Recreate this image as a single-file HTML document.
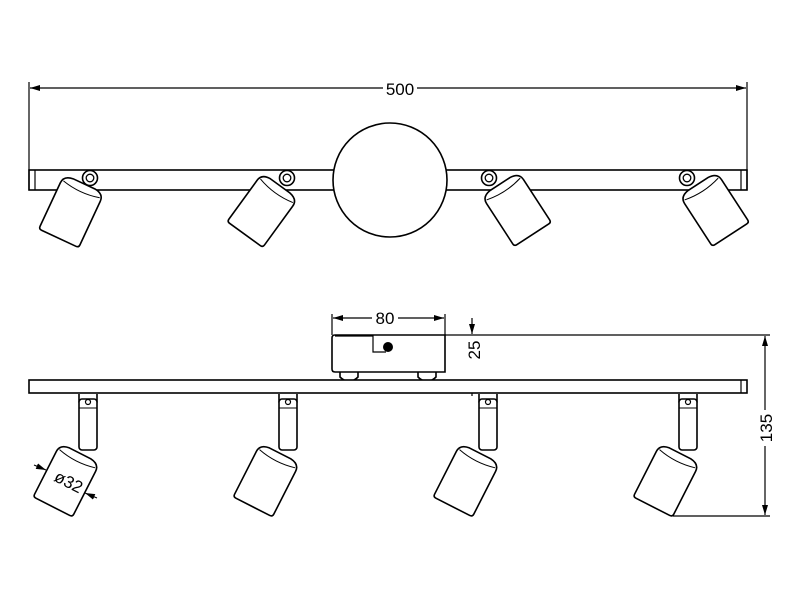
<!DOCTYPE html>
<html><head><meta charset="utf-8"><style>body{margin:0;background:#fff}svg{display:block}</style></head>
<body>
<svg width="800" height="600" viewBox="0 0 800 600" xmlns="http://www.w3.org/2000/svg" font-family="Liberation Sans, sans-serif">
<defs>
<g id="body">
<path d="M-22,-22 Q-22,-30 -12,-31 L12,-31 Q22,-30 22,-22 L22,26 Q22,29 19,29 L-19,29 Q-22,29 -22,26 Z" fill="#fff" stroke="#000" stroke-width="1.6"/>
<path d="M-20,-25 Q0,-20 20,-25" fill="none" stroke="#000" stroke-width="1"/>
</g>
<g id="ring"><circle r="7.5" fill="#fff" stroke="#000" stroke-width="1.6"/><circle r="3.8" fill="#fff" stroke="#000" stroke-width="1.3"/></g>
<g id="stem">
<path d="M-9,0 L-9,8 Q0,16 9,8 L9,0" fill="#fff" stroke="#000" stroke-width="1.6"/>
<rect x="-9" y="5" width="18" height="51" rx="3" fill="#fff" stroke="#000" stroke-width="1.6"/>
<line x1="-9" y1="14" x2="9" y2="14" stroke="#000" stroke-width="1"/>
<circle cx="0" cy="8" r="2.5" fill="none" stroke="#000" stroke-width="1.2"/>
</g>
<marker id="ar" viewBox="0 0 10 6" refX="10" refY="3" markerWidth="10" markerHeight="6" orient="auto-start-reverse" markerUnits="userSpaceOnUse"><path d="M0,0 L10,3 L0,6 Z" fill="#000"/></marker>
</defs>
<g stroke="#000" stroke-width="1.2" fill="none">
<!-- top view -->
<line x1="29" y1="82" x2="29" y2="190"/>
<line x1="747" y1="82" x2="747" y2="190"/>
<line x1="30" y1="88" x2="746" y2="88" marker-start="url(#ar)" marker-end="url(#ar)"/>
<rect x="29" y="170" width="718" height="20" stroke-width="1.6"/>
<line x1="35" y1="170" x2="35" y2="190"/>
<line x1="741" y1="170" x2="741" y2="190"/>
</g>
<rect x="383" y="80" width="34" height="16" fill="#fff"/>
<text x="400" y="95" font-size="17" text-anchor="middle">500</text>
<circle cx="390" cy="180" r="57" fill="#fff" stroke="#000" stroke-width="1.6"/>
<use href="#ring" x="90" y="178"/><use href="#body" transform="translate(71,212) rotate(25)"/>
<use href="#ring" x="287" y="178"/><use href="#body" transform="translate(262,211) rotate(36)"/>
<use href="#ring" x="489" y="178"/><use href="#body" transform="translate(517,210) rotate(-33)"/>
<use href="#ring" x="687" y="178"/><use href="#body" transform="translate(715,210) rotate(-33)"/>
<!-- side view -->
<g stroke="#000" stroke-width="1.2" fill="none">
<line x1="332" y1="314" x2="332" y2="335"/>
<line x1="445" y1="314" x2="445" y2="335"/>
<line x1="333" y1="318" x2="444" y2="318" marker-start="url(#ar)" marker-end="url(#ar)"/>
<line x1="445" y1="335" x2="770" y2="335"/>
<line x1="472" y1="318" x2="472" y2="334" marker-end="url(#ar)"/>
<line x1="472" y1="396" x2="472" y2="381" marker-end="url(#ar)"/>
<line x1="765" y1="336" x2="765" y2="515" marker-start="url(#ar)" marker-end="url(#ar)"/>
<line x1="673" y1="516" x2="770" y2="516"/>
</g>
<rect x="372" y="310" width="26" height="16" fill="#fff"/>
<text x="385" y="324" font-size="17" text-anchor="middle">80</text>
<rect x="463" y="340" width="20" height="24" fill="#fff"/>
<text transform="translate(480,350) rotate(-90)" font-size="17" text-anchor="middle">25</text>
<rect x="755" y="410" width="20" height="36" fill="#fff"/>
<text transform="translate(772,428) rotate(-90)" font-size="17" text-anchor="middle">135</text>
<g stroke="#000" stroke-width="1.6" fill="#fff">
<path d="M340,372 L340,377 Q349,386 358,377 L358,372"/>
<path d="M418,372 L418,377 Q427,386 436,377 L436,372"/>
<path d="M335,335 L445,335 L445,372 L335,372 Q332,372 332,369 L332,338 Q332,335 335,335 Z"/>
<path d="M335,336 L373,336 L373,352 L386,352" fill="none" stroke-width="1.2"/>
</g>
<circle cx="388" cy="347" r="5" fill="#000"/>
<rect x="29" y="380" width="718" height="13" fill="#fff" stroke="#000" stroke-width="1.6"/>
<line x1="741" y1="380" x2="741" y2="393" stroke="#000" stroke-width="1.2"/>
<use href="#stem" x="88" y="394"/><use href="#body" transform="translate(66,481) rotate(27)"/>
<use href="#stem" x="288" y="394"/><use href="#body" transform="translate(266,481) rotate(27)"/>
<use href="#stem" x="488" y="394"/><use href="#body" transform="translate(466,481) rotate(27)"/>
<use href="#stem" x="688" y="394"/><use href="#body" transform="translate(666,481) rotate(27)"/>
<g stroke="#000" stroke-width="1.1">
<line x1="34" y1="465" x2="46" y2="470" marker-end="url(#ar)"/>
<line x1="97" y1="498" x2="85" y2="493" marker-end="url(#ar)"/>
</g>
<text transform="translate(66,487) rotate(27)" font-size="17" text-anchor="middle">ø32</text>
</svg>
</body></html>
